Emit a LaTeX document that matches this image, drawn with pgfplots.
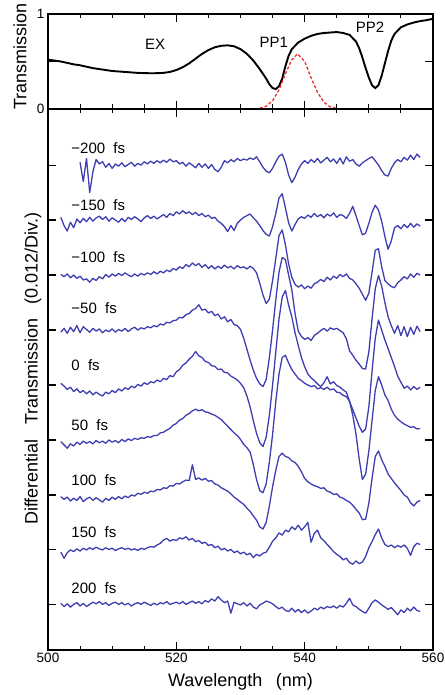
\documentclass[border=0pt]{standalone}
\usepackage{fontspec}
\setmainfont{Liberation Sans}
\usepackage{pgfplots}
\pgfplotsset{compat=1.18}
\usepackage{pgfplotstable}
\definecolor{trace}{RGB}{62,62,178}
\definecolor{pulse}{RGB}{235,45,45}

% transmission spectrum (top panel)
\pgfplotstableread{
x T
500 0.52
501 0.51
502 0.50
503 0.485
504 0.47
505 0.46
506 0.445
507 0.43
508 0.42
509 0.41
510 0.40
511 0.395
512 0.39
513 0.385
514 0.38
515 0.378
516 0.376
517 0.377
518 0.38
519 0.39
520 0.41
521 0.44
522 0.48
523 0.53
524 0.58
525 0.62
526 0.65
527 0.665
528 0.67
529 0.66
530 0.63
531 0.58
532 0.51
533 0.42
534 0.32
534.5 0.26
535 0.22
535.5 0.21
536 0.24
536.5 0.32
537 0.45
537.5 0.56
538 0.63
539 0.70
540 0.74
541 0.77
542 0.79
543 0.80
544 0.805
545 0.81
546 0.80
547 0.78
548 0.71
548.5 0.64
549 0.54
549.5 0.43
550 0.33
550.5 0.25
551 0.22
551.5 0.25
552 0.35
552.5 0.48
553 0.61
553.5 0.72
554 0.79
555 0.86
556 0.89
557 0.91
558 0.925
559 0.935
560 0.95
}\trans

% pump spectrum
\pgfplotstableread{
x P
533 0.008
534 0.029
535 0.087
536 0.20
537 0.37
538 0.52
538.9 0.58
540 0.50
541 0.33
542 0.175
543 0.071
544 0.022
545 0.005
}\pulse

% differential transmission, in divisions, before the offset of each delay
\pgfplotstableread{
x m200 m150 m100 m50 z p50 p100 p150 p200
502.0 nan 0.05 0.01 -0.04 0.03 -0.03 -0.03 -0.04 0.03
502.5 nan -0.10 -0.03 0.03 -0.02 -0.09 -0.08 -0.15 -0.03
503.0 nan -0.20 0.02 -0.06 -0.08 -0.15 -0.04 -0.05 0.02
503.5 nan -0.04 -0.05 0.05 -0.04 -0.07 -0.11 0.00 -0.04
504.0 nan -0.14 0.00 -0.03 -0.12 -0.11 -0.06 -0.03 0.01
504.5 nan 0.02 -0.06 0.08 -0.07 -0.04 -0.10 0.02 0.04
505.0 0.05 -0.05 -0.02 -0.05 -0.14 -0.08 -0.03 -0.02 -0.02
505.5 -0.30 0.03 -0.09 0.06 -0.10 -0.02 -0.12 0.03 0.03
506.0 0.12 -0.03 -0.07 0.01 -0.16 -0.06 -0.07 0.00 -0.03
506.5 -0.50 0.05 -0.13 -0.04 -0.11 -0.03 -0.04 0.04 0.01
507.0 -0.12 -0.02 -0.06 0.03 -0.18 -0.07 -0.10 0.01 0.05
507.5 0.10 0.04 -0.10 -0.02 -0.13 -0.01 -0.05 0.05 0.02
508.0 0.02 0.07 -0.03 0.02 -0.17 -0.05 -0.09 0.02 0.06
508.5 0.06 0.01 -0.07 -0.05 -0.20 -0.02 -0.13 0.00 0.01
509.0 -0.04 0.06 0.01 0.00 -0.13 -0.06 -0.06 0.04 0.04
509.5 0.03 -0.02 -0.04 -0.03 -0.16 0.00 -0.10 0.01 -0.01
510.0 -0.06 0.04 0.02 0.02 -0.10 -0.04 -0.04 0.03 0.03
510.5 0.02 0.00 -0.02 -0.04 -0.14 -0.01 -0.08 -0.01 0.05
511.0 -0.02 -0.04 0.03 0.01 -0.07 -0.05 -0.03 0.02 0.01
511.5 0.04 0.03 -0.01 -0.02 -0.11 0.01 -0.07 0.04 0.04
512.0 -0.03 -0.03 0.04 0.03 -0.05 -0.03 -0.02 0.01 0.00
512.5 0.01 0.05 0.00 -0.03 -0.08 0.02 -0.05 0.03 0.03
513.0 0.05 0.01 -0.03 0.02 -0.02 -0.01 0.00 0.00 -0.02
513.5 -0.02 0.06 0.02 0.05 -0.05 0.03 -0.02 0.02 0.02
514.0 0.03 0.02 -0.02 0.00 0.01 0.01 0.03 -0.01 0.04
514.5 0.00 -0.03 0.03 0.04 -0.02 0.04 0.01 0.03 0.01
515.0 0.06 0.04 0.00 0.02 0.04 0.03 0.05 0.01 0.05
515.5 0.02 0.08 0.04 0.06 0.01 0.06 0.03 0.04 0.02
516.0 0.07 0.03 0.01 0.04 0.06 0.05 0.07 0.06 -0.01
516.5 0.03 0.07 0.06 0.08 0.04 0.08 0.06 0.05 0.03
517.0 0.08 0.02 0.02 0.06 0.09 0.08 0.10 0.09 0.00
517.5 0.04 0.06 0.07 0.11 0.06 0.13 0.09 0.12 0.04
518.0 0.09 0.10 0.04 0.09 0.12 0.14 0.13 0.18 0.02
518.5 0.05 0.05 0.09 0.14 0.10 0.18 0.12 0.21 0.06
519.0 0.11 0.12 0.06 0.13 0.17 0.21 0.17 0.16 0.01
519.5 0.06 0.08 0.12 0.17 0.15 0.27 0.16 0.19 0.03
520.0 0.08 0.15 0.09 0.18 0.24 0.30 0.21 0.17 0.05
520.5 0.02 0.11 0.15 0.23 0.28 0.36 0.20 0.22 0.02
521.0 0.05 0.17 0.12 0.22 0.36 0.39 0.24 0.20 0.06
521.5 -0.02 0.12 0.19 0.28 0.40 0.45 0.27 0.24 0.01
522.0 0.04 0.15 0.15 0.30 0.47 0.48 0.26 0.18 0.04
522.5 0.00 0.10 0.22 0.36 0.52 0.53 0.55 0.21 0.07
523.0 -0.05 0.14 0.17 0.39 0.61 0.56 0.28 0.15 0.03
523.5 0.03 0.08 0.21 0.46 0.53 0.53 0.31 0.17 0.06
524.0 -0.04 0.12 0.14 0.36 0.50 0.55 0.27 0.12 0.02
524.5 0.02 0.06 0.19 0.38 0.43 0.51 0.30 0.14 0.08
525.0 -0.06 0.09 0.12 0.31 0.41 0.50 0.25 0.08 0.05
525.5 0.01 0.03 0.17 0.34 0.35 0.47 0.26 0.10 0.11
526.0 -0.08 0.05 0.11 0.26 0.34 0.45 0.20 0.04 0.07
526.5 -0.12 -0.02 0.16 0.29 0.28 0.41 0.18 0.07 0.15
527.0 -0.04 -0.06 0.12 0.20 0.29 0.37 0.13 0.00 0.09
527.5 0.08 -0.12 0.18 0.24 0.23 0.31 0.10 0.03 0.04
528.0 0.04 -0.21 0.13 0.15 0.22 0.25 0.07 -0.02 0.07
528.5 0.10 -0.10 0.16 0.19 0.16 0.19 0.02 0.01 -0.15
529.0 0.06 -0.19 0.11 0.10 0.13 0.13 -0.04 -0.05 0.05
529.5 0.12 -0.06 0.17 0.08 0.09 0.08 -0.08 -0.02 0.02
530.0 0.08 0.00 0.13 0.01 0.03 0.01 -0.13 -0.07 0.00
530.5 0.11 0.05 0.15 -0.15 -0.05 -0.08 -0.17 -0.04 0.04
531.0 0.09 0.08 0.11 -0.35 -0.20 -0.14 -0.24 -0.09 -0.02
531.5 0.13 0.11 0.16 -0.55 -0.40 -0.22 -0.30 -0.06 0.03
532.0 0.10 0.04 0.12 -0.73 -0.65 -0.45 -0.38 -0.14 -0.04
532.5 0.15 -0.02 0.04 -0.88 -0.88 -0.72 -0.46 -0.08 -0.07
533.0 0.06 -0.10 -0.15 -0.98 -1.05 -0.92 -0.58 -0.11 0.00
533.5 -0.04 -0.19 -0.36 -1.03 -1.12 -0.96 -0.62 -0.06 0.03
534.0 -0.11 -0.26 -0.52 -0.90 -0.95 -0.80 -0.50 -0.04 0.07
534.5 -0.14 -0.29 -0.44 -0.50 -0.55 -0.40 -0.20 0.05 0.05
535.0 -0.06 -0.12 -0.10 0.00 0.00 0.10 0.15 0.16 0.02
535.5 0.06 0.12 0.30 0.55 0.60 0.70 0.45 0.22 -0.03
536.0 0.16 0.40 0.72 1.05 1.20 1.20 0.70 0.31 -0.07
536.5 0.20 0.48 0.82 1.32 1.60 1.50 0.76 0.27 -0.04
537.0 0.05 0.22 0.55 1.28 1.72 1.54 0.70 0.36 -0.10
537.5 -0.18 -0.05 0.20 1.00 1.45 1.40 0.68 0.33 -0.12
538.0 -0.32 -0.20 -0.04 0.73 1.24 1.28 0.62 0.42 -0.06
538.5 -0.22 -0.08 -0.17 0.30 0.95 1.20 0.59 0.37 -0.13
539.0 -0.08 0.02 -0.22 -0.02 0.72 1.12 0.52 0.45 -0.08
539.5 0.02 0.06 -0.18 -0.12 0.50 1.08 0.42 0.36 -0.14
540.0 0.08 0.03 -0.25 -0.17 0.33 1.03 0.30 0.42 -0.09
540.5 0.03 0.09 -0.20 -0.14 0.20 1.00 0.24 0.50 -0.15
541.0 0.10 0.05 -0.24 -0.19 0.13 0.97 0.20 0.14 -0.11
541.5 0.05 0.12 -0.16 -0.10 0.08 0.99 0.17 0.30 -0.06
542.0 0.12 0.06 -0.13 -0.06 0.02 0.93 0.15 0.36 -0.09
542.5 0.04 0.10 -0.08 -0.01 -0.03 0.95 0.12 0.22 -0.04
543.0 0.09 0.04 -0.12 0.03 0.04 0.92 0.13 0.17 -0.07
543.5 0.14 0.11 -0.04 -0.02 0.15 0.96 0.07 0.10 -0.03
544.0 0.06 0.07 -0.09 0.04 0.02 0.91 0.05 0.04 -0.05
544.5 0.11 0.13 -0.02 0.01 0.06 0.93 0.01 -0.03 -0.02
545.0 0.03 0.05 -0.06 0.03 -0.01 0.87 0.02 -0.08 -0.06
545.5 0.13 0.10 0.01 -0.01 -0.04 0.86 -0.04 -0.12 -0.01
546.0 0.02 0.08 -0.03 -0.05 -0.09 0.81 -0.06 -0.18 -0.04
546.5 0.15 0.03 0.02 -0.16 -0.13 0.79 -0.10 -0.15 0.03
547.0 0.07 0.12 -0.06 -0.38 -0.30 0.70 -0.13 -0.23 0.12
547.5 0.10 0.25 -0.09 -0.46 -0.45 0.45 -0.19 -0.26 0.00
548.0 0.02 0.08 -0.16 -0.55 -0.60 0.10 -0.26 -0.20 -0.03
548.5 -0.02 -0.10 -0.24 -0.62 -0.75 -0.35 -0.33 -0.25 -0.08
549.0 0.04 -0.27 -0.35 -0.70 -0.86 -0.72 -0.45 -0.22 -0.12
549.5 0.08 -0.24 -0.46 -0.71 -0.80 -0.62 -0.44 -0.12 -0.15
550.0 0.12 -0.06 -0.33 -0.40 -0.40 -0.20 -0.15 0.04 -0.06
550.5 0.15 0.14 0.05 0.20 0.25 0.35 0.30 0.15 0.04
551.0 0.08 0.27 0.45 0.75 0.85 0.90 0.70 0.28 0.09
551.5 0.00 0.18 0.48 0.99 1.18 1.15 0.80 0.38 0.05
552.0 -0.10 -0.02 0.15 0.80 1.00 1.00 0.64 0.22 0.00
552.5 -0.18 -0.30 -0.10 0.50 0.82 0.82 0.52 0.10 -0.04
553.0 -0.20 -0.53 -0.16 0.24 0.66 0.72 0.38 0.06 -0.08
553.5 -0.06 -0.38 -0.21 0.08 0.50 0.56 0.30 0.09 -0.05
554.0 0.04 -0.14 -0.23 -0.06 0.34 0.45 0.22 0.04 -0.11
554.5 0.10 -0.10 -0.14 0.08 0.16 0.38 0.15 0.08 -0.18
555.0 0.06 -0.16 -0.09 -0.10 0.05 0.33 0.08 0.05 -0.09
555.5 0.14 -0.08 -0.03 0.06 -0.06 0.29 0.00 0.09 -0.14
556.0 0.09 -0.14 -0.07 -0.12 -0.02 0.26 -0.04 0.03 -0.06
556.5 0.18 -0.06 0.02 0.05 -0.09 0.23 -0.14 -0.10 -0.11
557.0 0.10 -0.13 -0.04 -0.08 -0.03 0.24 -0.20 0.06 -0.04
557.5 0.20 -0.07 0.03 0.07 -0.08 0.20 -0.13 0.12 -0.10
558.0 0.14 -0.11 0.00 -0.03 -0.04 0.21 -0.10 0.10 -0.12
}\dt

\pgfplotsset{
  panel/.style={
    scale only axis, width=385pt,
    xmin=500, xmax=560,
    axis line style={line width=1.3pt},
    tick align=inside, xtick pos=both, ytick pos=both,
    xtick={500,520,540,560},
    minor xtick={505,510,515,525,530,535,545,550,555},
    major tick length=8pt, minor tick length=4.5pt,
    tick style={black, line width=1.1pt},
    tick label style={font=\fontsize{13.5}{13.5}\selectfont},
    label style={font=\fontsize{18}{18}\selectfont},
    /pgf/number format/assume math mode=true,
  },
  dtrace/.style={trace, line width=1.3pt, line join=round},
}

\newcommand{\lbl}[1]{\fontsize{15}{15}\selectfont #1\hspace{0.55em}fs}

\begin{document}
\begin{tikzpicture}
\useasboundingbox (0,0) rectangle (444pt,695pt);

\begin{axis}[panel,
  at={(48pt,586pt)}, anchor=south west, height=95pt,
  ymin=0, ymax=1, ytick={0,0.5,1}, yticklabels={0,,1},
  xticklabels={},
  ylabel={Transmission},
  ylabel style={at={(axis description cs:-0.073,0.55)}, anchor=center},
]
  \addplot[black, line width=1.9pt] table[x=x,y=T]{\trans};
  \addplot[pulse, line width=1.3pt, dash pattern=on 3pt off 2pt] table[x=x,y=P]{\pulse};
  \node[font=\fontsize{15}{15}\selectfont] at (axis cs:516.7,0.68) {EX};
  \node[font=\fontsize{15}{15}\selectfont] at (axis cs:535.2,0.70) {PP1};
  \node[font=\fontsize{15}{15}\selectfont] at (axis cs:550.2,0.86) {PP2};
\end{axis}

\begin{axis}[panel,
  at={(48pt,45pt)}, anchor=south west, height=541pt,
  ymin=-0.82, ymax=9.02, ytick={0,...,8}, yticklabels={},
  xlabel={Wavelength\hspace{0.75em}(nm)},
  xlabel style={at={(axis description cs:0.5,-0.059)}, anchor=center},
  ylabel={Differential\hspace{0.8em}Transmission\hspace{0.8em}(0.012/Div.)},
  ylabel style={at={(axis description cs:-0.039,0.52)}, anchor=center},
]
  \addplot[dtrace] table[x=x,y expr=\thisrow{m200}+8]{\dt};
  \addplot[dtrace] table[x=x,y expr=\thisrow{m150}+7]{\dt};
  \addplot[dtrace] table[x=x,y expr=\thisrow{m100}+6]{\dt};
  \addplot[dtrace] table[x=x,y expr=\thisrow{m50}+5]{\dt};
  \addplot[dtrace] table[x=x,y expr=\thisrow{z}+4]{\dt};
  \addplot[dtrace] table[x=x,y expr=\thisrow{p50}+3]{\dt};
  \addplot[dtrace] table[x=x,y expr=\thisrow{p100}+2]{\dt};
  \addplot[dtrace] table[x=x,y expr=\thisrow{p150}+1]{\dt};
  \addplot[dtrace] table[x=x,y=p200]{\dt};
  \node[anchor=west] at (axis cs:503.1,8.31) {\lbl{−200}};
  \node[anchor=west] at (axis cs:503.1,7.27) {\lbl{−150}};
  \node[anchor=west] at (axis cs:503.1,6.33) {\lbl{−100}};
  \node[anchor=west] at (axis cs:503.1,5.40) {\lbl{−50}};
  \node[anchor=west] at (axis cs:503.1,4.36) {\lbl{0}};
  \node[anchor=west] at (axis cs:503.1,3.27) {\lbl{50}};
  \node[anchor=west] at (axis cs:503.1,2.27) {\lbl{100}};
  \node[anchor=west] at (axis cs:503.1,1.33) {\lbl{150}};
  \node[anchor=west] at (axis cs:503.1,0.31) {\lbl{200}};
\end{axis}
\end{tikzpicture}
\end{document}
